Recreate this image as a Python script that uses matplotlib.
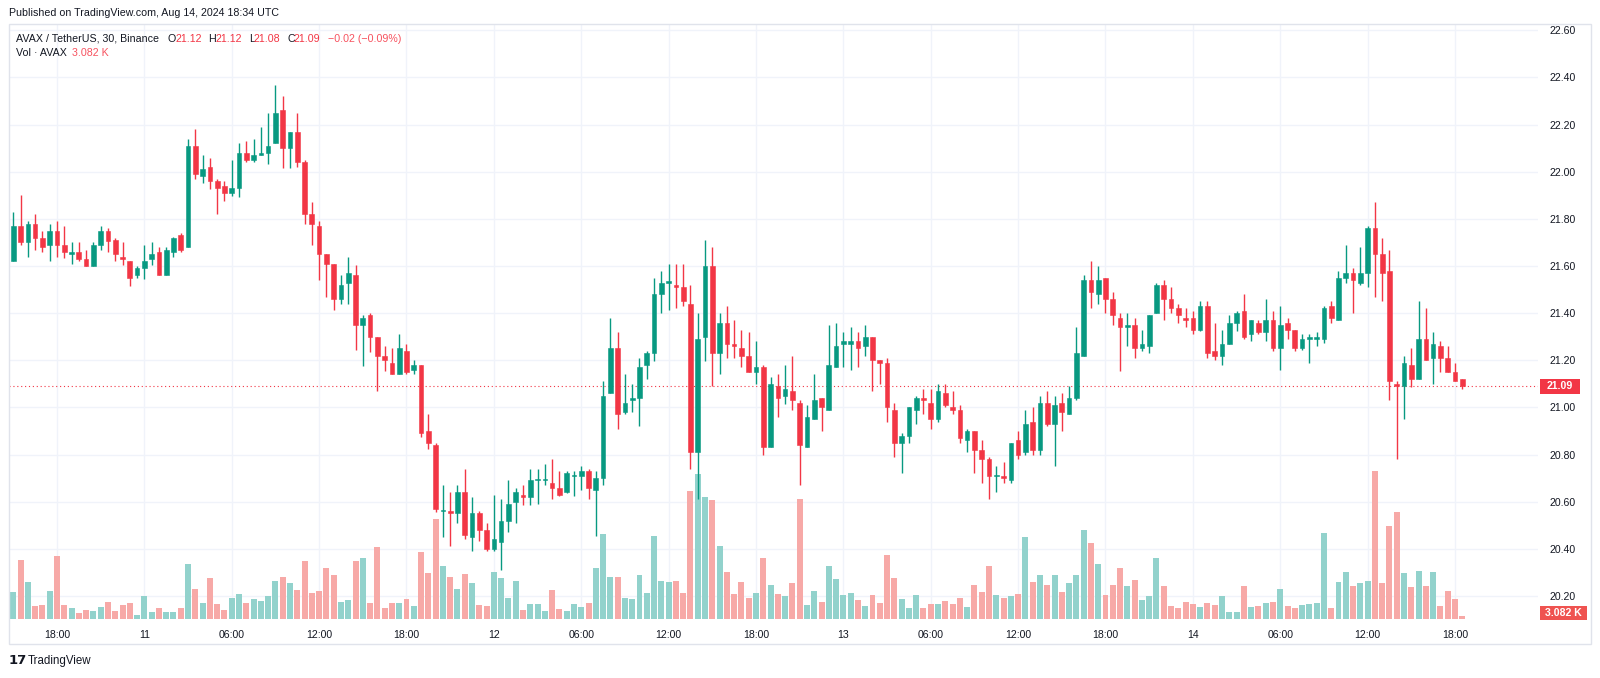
import matplotlib
matplotlib.use("Agg")
import matplotlib.pyplot as plt
from matplotlib.patches import Rectangle
import numpy as np

plt.rcParams['font.family'] = ['Liberation Sans', 'DejaVu Sans']

# ---------------- data (AVAX/USDT, 30m candles, Aug 10 15:00 -> Aug 14 18:30 UTC) -------------
opens = [
    21.62, 21.77, 21.70, 21.78, 21.72, 21.69, 21.75, 21.69, 21.65, 21.66,
    21.63, 21.60, 21.69, 21.75, 21.71, 21.64, 21.62, 21.56, 21.59, 21.63,
    21.66, 21.56, 21.66, 21.73, 21.68, 22.11, 21.98, 22.02, 21.96, 21.94,
    21.91, 21.93, 22.08, 22.05, 22.07, 22.08, 22.12, 22.26, 22.10, 22.17,
    22.04, 21.82, 21.77, 21.65, 21.61, 21.46, 21.53, 21.56, 21.35, 21.39,
    21.30, 21.22, 21.19, 21.14, 21.24, 21.16, 21.18, 20.90, 20.84, 20.56,
    20.56, 20.55, 20.64, 20.45, 20.55, 20.48, 20.40, 20.43, 20.52, 20.60,
    20.63, 20.62, 20.69, 20.69, 20.68, 20.66, 20.64, 20.71, 20.71, 20.73,
    20.65, 20.70, 21.06, 21.25, 20.98, 21.03, 21.04, 21.18, 21.23, 21.48,
    21.53, 21.52, 21.51, 21.44, 20.81, 21.30, 21.60, 21.23, 21.36, 21.27,
    21.25, 21.22, 21.15, 21.17, 20.83, 21.09, 21.05, 21.07, 21.02, 20.83,
    20.95, 21.04, 20.99, 21.17, 21.27, 21.27, 21.28, 21.26, 21.30, 21.20,
    21.19, 20.99, 20.85, 20.88, 20.99, 21.04, 21.02, 20.95, 21.06, 21.00,
    20.99, 20.86, 20.90, 20.82, 20.78, 20.71, 20.71, 20.69, 20.86, 20.81,
    20.94, 20.82, 21.02, 20.93, 21.02, 20.97, 21.04, 21.22, 21.54, 21.48,
    21.55, 21.46, 21.38, 21.34, 21.35, 21.25, 21.26, 21.40, 21.52, 21.46,
    21.42, 21.38, 21.38, 21.33, 21.43, 21.24, 21.22, 21.27, 21.36, 21.41,
    21.31, 21.36, 21.32, 21.37, 21.25, 21.36, 21.33, 21.25, 21.29, 21.29,
    21.29, 21.43, 21.37, 21.55, 21.57, 21.53, 21.57, 21.76, 21.65, 21.58,
    21.10, 21.09, 21.18, 21.12, 21.29, 21.21, 21.26, 21.21, 21.15, 21.12,
]
highs = [
    21.83, 21.90, 21.79, 21.82, 21.75, 21.78, 21.79, 21.77, 21.70, 21.70,
    21.67, 21.70, 21.77, 21.76, 21.72, 21.70, 21.62, 21.60, 21.69, 21.70,
    21.68, 21.68, 21.725, 21.74, 22.14, 22.18, 22.07, 22.06, 21.97, 21.96,
    22.05, 22.12, 22.13, 22.14, 22.19, 22.25, 22.37, 22.32, 22.17, 22.25,
    22.05, 21.87, 21.79, 21.65, 21.61, 21.56, 21.64, 21.605, 21.39, 21.40,
    21.30, 21.26, 21.25, 21.31, 21.27, 21.20, 21.18, 20.97, 20.85, 20.67,
    20.64, 20.67, 20.74, 20.62, 20.56, 20.51, 20.63, 20.61, 20.69, 20.66,
    20.67, 20.74, 20.74, 20.76, 20.78, 20.73, 20.73, 20.73, 20.75, 20.74,
    20.73, 21.11, 21.38, 21.32, 21.14, 21.10, 21.21, 21.24, 21.55, 21.58,
    21.61, 21.61, 21.61, 21.52, 21.40, 21.71, 21.68, 21.40, 21.43, 21.37,
    21.33, 21.32, 21.28, 21.18, 21.13, 21.14, 21.18, 21.22, 21.03, 21.01,
    21.14, 21.04, 21.35, 21.36, 21.32, 21.34, 21.32, 21.35, 21.30, 21.20,
    21.21, 21.02, 20.89, 21.00, 21.05, 21.08, 21.08, 21.10, 21.10, 21.07,
    21.01, 20.91, 20.90, 20.86, 20.79, 20.75, 20.77, 20.85, 20.90, 20.99,
    21.00, 21.05, 21.07, 21.05, 21.06, 21.09, 21.34, 21.56, 21.62, 21.60,
    21.55, 21.49, 21.40, 21.40, 21.38, 21.33, 21.39, 21.53, 21.54, 21.51,
    21.44, 21.42, 21.41, 21.45, 21.45, 21.36, 21.33, 21.39, 21.41, 21.48,
    21.37, 21.37, 21.46, 21.41, 21.43, 21.38, 21.33, 21.31, 21.31, 21.32,
    21.43, 21.45, 21.58, 21.69, 21.59, 21.68, 21.77, 21.87, 21.72, 21.67,
    21.11, 21.22, 21.25, 21.45, 21.42, 21.32, 21.28, 21.26, 21.19, 21.12,
]
lows = [
    21.62, 21.69, 21.64, 21.67, 21.66, 21.62, 21.64, 21.635, 21.61, 21.62,
    21.60, 21.60, 21.67, 21.66, 21.62, 21.605, 21.515, 21.55, 21.543, 21.605,
    21.56, 21.56, 21.637, 21.66, 21.68, 21.97, 21.954, 21.925, 21.82, 21.875,
    21.895, 21.894, 22.04, 22.04, 22.07, 22.035, 22.12, 22.015, 22.015, 22.02,
    21.78, 21.69, 21.54, 21.47, 21.415, 21.44, 21.44, 21.244, 21.174, 21.234,
    21.07, 21.155, 21.14, 21.14, 21.14, 21.14, 20.874, 20.825, 20.554, 20.45,
    20.41, 20.51, 20.44, 20.39, 20.435, 20.39, 20.39, 20.31, 20.47, 20.51,
    20.585, 20.585, 20.59, 20.67, 20.61, 20.625, 20.635, 20.625, 20.65, 20.61,
    20.455, 20.67, 21.06, 20.91, 20.97, 20.98, 20.92, 21.12, 21.195, 21.40,
    21.415, 21.42, 21.43, 20.74, 20.61, 21.195, 21.09, 21.14, 21.21, 21.21,
    21.17, 21.15, 21.10, 20.80, 20.83, 20.96, 21.015, 20.99, 20.67, 20.83,
    20.95, 20.90, 20.99, 21.17, 21.17, 21.16, 21.17, 21.22, 21.07, 21.10,
    20.94, 20.79, 20.72, 20.85, 20.93, 20.97, 20.91, 20.94, 21.00, 20.97,
    20.85, 20.81, 20.72, 20.68, 20.61, 20.64, 20.68, 20.68, 20.78, 20.80,
    20.80, 20.80, 20.92, 20.75, 20.90, 20.97, 21.03, 21.22, 21.42, 21.44,
    21.40, 21.35, 21.155, 21.26, 21.21, 21.24, 21.23, 21.40, 21.37, 21.40,
    21.36, 21.34, 21.31, 21.325, 21.21, 21.20, 21.18, 21.27, 21.325, 21.29,
    21.28, 21.31, 21.28, 21.24, 21.16, 21.29, 21.24, 21.245, 21.19, 21.26,
    21.275, 21.36, 21.37, 21.53, 21.40, 21.52, 21.51, 21.47, 21.45, 21.03,
    20.78, 20.95, 21.085, 21.12, 21.20, 21.10, 21.15, 21.15, 21.11, 21.08,
]
closes = [
    21.77, 21.70, 21.78, 21.72, 21.68, 21.75, 21.69, 21.66, 21.66, 21.63,
    21.60, 21.69, 21.75, 21.705, 21.65, 21.63, 21.55, 21.59, 21.62, 21.65,
    21.56, 21.67, 21.72, 21.67, 22.11, 21.99, 22.01, 21.96, 21.93, 21.91,
    21.93, 22.08, 22.05, 22.07, 22.08, 22.11, 22.25, 22.10, 22.17, 22.04,
    21.82, 21.78, 21.65, 21.61, 21.46, 21.52, 21.57, 21.35, 21.38, 21.30,
    21.22, 21.20, 21.14, 21.25, 21.15, 21.18, 20.89, 20.85, 20.57, 20.56,
    20.55, 20.64, 20.46, 20.55, 20.48, 20.40, 20.44, 20.52, 20.59, 20.64,
    20.62, 20.69, 20.69, 20.69, 20.66, 20.63, 20.72, 20.71, 20.73, 20.66,
    20.70, 21.05, 21.25, 20.97, 21.02, 21.04, 21.17, 21.23, 21.48, 21.53,
    21.53, 21.51, 21.45, 20.81, 21.29, 21.60, 21.23, 21.36, 21.27, 21.26,
    21.22, 21.15, 21.17, 20.83, 21.10, 21.04, 21.08, 21.03, 20.84, 20.96,
    21.03, 21.00, 21.18, 21.26, 21.28, 21.28, 21.25, 21.30, 21.20, 21.19,
    21.00, 20.85, 20.88, 21.00, 21.04, 21.03, 20.95, 21.07, 21.01, 20.99,
    20.87, 20.90, 20.82, 20.78, 20.71, 20.71, 20.70, 20.85, 20.80, 20.93,
    20.82, 21.02, 20.93, 21.01, 20.98, 21.04, 21.23, 21.54, 21.49, 21.54,
    21.46, 21.39, 21.34, 21.35, 21.25, 21.27, 21.39, 21.52, 21.46, 21.42,
    21.39, 21.37, 21.33, 21.43, 21.23, 21.22, 21.27, 21.36, 21.40, 21.30,
    21.37, 21.32, 21.37, 21.25, 21.35, 21.33, 21.25, 21.29, 21.30, 21.30,
    21.42, 21.38, 21.55, 21.57, 21.54, 21.57, 21.76, 21.65, 21.57, 21.11,
    21.09, 21.19, 21.12, 21.29, 21.20, 21.27, 21.21, 21.15, 21.11, 21.09,
]
volumes_k = [
    27.3, 58.9, 37.0, 12.7, 13.9, 28.5, 63.1, 13.9, 10.8, 6.2,
    9.2, 8.1, 11.6, 17.3, 8.1, 13.9, 16.2, 4.2, 23.1, 7.3,
    11.2, 7.3, 7.3, 11.2, 55.1, 30.4, 15.8, 41.6, 14.6, 8.9,
    21.6, 25.4, 16.2, 20.0, 18.5, 22.7, 38.5, 42.7, 35.8, 29.3,
    58.5, 26.6, 28.5, 51.2, 44.7, 17.3, 18.9, 58.5, 61.2, 16.2,
    72.4, 11.2, 15.8, 15.8, 20.0, 12.7, 67.0, 45.8, 100.5, 53.5,
    42.0, 30.0, 45.0, 35.8, 13.9, 12.7, 47.0, 41.2, 21.6, 38.5,
    9.2, 14.6, 14.6, 8.1, 29.3, 10.0, 8.1, 14.6, 11.6, 16.2,
    51.2, 85.1, 42.7, 42.7, 21.6, 20.0, 44.7, 25.8, 83.2, 38.5,
    37.0, 38.5, 25.8, 129.0, 145.5, 122.8, 119.4, 73.2, 47.4, 25.4,
    37.3, 20.8, 26.6, 61.2, 34.3, 25.4, 22.7, 36.6, 120.5, 13.9,
    28.1, 17.3, 53.1, 40.0, 24.3, 26.6, 18.9, 12.7, 23.9, 16.2,
    63.9, 41.2, 20.0, 11.2, 23.9, 10.8, 14.6, 14.6, 18.5, 14.6,
    20.8, 11.6, 34.7, 27.3, 53.1, 24.3, 20.8, 22.7, 25.4, 82.4,
    37.0, 43.9, 33.9, 43.9, 27.3, 35.8, 43.9, 89.3, 76.6, 55.8,
    23.9, 33.9, 51.2, 32.7, 39.7, 18.9, 22.7, 61.2, 32.7, 12.7,
    10.8, 17.3, 15.4, 11.6, 16.2, 13.9, 22.7, 7.3, 7.3, 32.7,
    11.6, 12.7, 15.8, 17.3, 30.4, 12.7, 10.8, 13.9, 15.4, 16.2,
    86.6, 10.8, 37.3, 47.4, 32.7, 36.6, 38.5, 148.6, 36.6, 93.6,
    107.8, 46.6, 32.0, 48.5, 32.7, 47.4, 12.7, 28.1, 20.0, 3.082,
]
time_tick_index = [6, 18, 30, 42, 54, 66, 78, 90, 102, 114, 126, 138, 150, 162, 174, 186, 198]
time_tick_labels = ['18:00', '11', '06:00', '12:00', '18:00', '12', '06:00', '12:00', '18:00',
                    '13', '06:00', '12:00', '18:00', '14', '06:00', '12:00', '18:00']
price_ticks = [20.20, 20.40, 20.60, 20.80, 21.00, 21.20, 21.40, 21.60, 21.80, 22.00, 22.20, 22.40, 22.60]
last_price = 21.09
last_volume_label = '3.082 K'

# ---------------- style ----------------
UP, DN = '#089981', '#F23645'
VUP, VDN = '#92D2CC', '#F7A9A7'
GRID = '#F0F3FA'
TXT = '#131722'
FS = 7.6

W, H = 1600, 678
fig = plt.figure(figsize=(W / 100, H / 100), dpi=100)
fig.patch.set_facecolor('white')

def ftext(xp, yp, s, **kw):
    return fig.text(xp / W, 1 - yp / H, s, **kw)

def fbox(x0, y0, x1, y1, color, fill=True, lw=0):
    fig.add_artist(Rectangle((x0 / W, 1 - y1 / H), (x1 - x0) / W, (y1 - y0) / H,
                             transform=fig.transFigure, facecolor=color if fill else 'none',
                             edgecolor=color, lw=lw, fill=fill))

# outer frame
fbox(9, 24, 1591, 644, '#E0E3EB', fill=False, lw=1)

L, R, T, B = 9, 1538, 24, 619
pos = [L / W, 1 - B / H, (R - L) / W, (B - T) / H]
ax_bg = fig.add_axes(pos)
ax_vol = fig.add_axes(pos, sharex=ax_bg)
ax = fig.add_axes(pos, sharex=ax_bg, sharey=ax_bg)
ax_vol.axis('off')
ax.axis('off')

n = len(closes)
x = np.arange(n)
o = np.array(opens); c = np.array(closes)
h = np.maximum(np.array(highs), np.maximum(o, c))
lo = np.minimum(np.array(lows), np.minimum(o, c))
up = c >= o

ax_bg.set_xlim(-0.59, 209.4)
ax_bg.set_ylim(20.102, 22.627)
ax_bg.set_facecolor('white')
for s in ax_bg.spines.values():
    s.set_visible(False)
ax_bg.yaxis.tick_right()
ax_bg.set_yticks(price_ticks, [f'{p:.2f}' for p in price_ticks])
ax_bg.set_xticks(time_tick_index, time_tick_labels)
ax_bg.tick_params(axis='y', length=0, pad=8, labelsize=FS, labelcolor=TXT)
ax_bg.tick_params(axis='x', length=0, pad=8, labelsize=FS, labelcolor=TXT)
ax_bg.grid(True, color=GRID, lw=1)

# volume
ax_vol.bar(x, volumes_k, width=0.82, color=np.where(up, VUP, VDN), linewidth=0)
ax_vol.set_ylim(0, 598.6)

# last price line
ax.axhline(last_price, color=DN, lw=0.8, ls=(0, (1, 2.5)), zorder=1)

# candles
cols = np.where(up, UP, DN)
ax.vlines(x, lo, h, colors=cols, lw=1.0, zorder=2)
body_bot = np.minimum(o, c)
body_h = np.maximum(np.abs(c - o), 0.005)
ax.bar(x, body_h, bottom=body_bot, width=0.64, color=cols, edgecolor=cols, linewidth=0.4, zorder=3)

# price labels on axis
py = 30.3 + (22.60 - last_price) * 235.7
fbox(1540, py - 7.5, 1580, py + 7.5, DN)
ftext(1560, py, f'{last_price:.2f}', color='white', fontsize=FS, fontweight='bold', ha='center', va='center')
fbox(1540, 606, 1587, 620, '#EF5350')
ftext(1563.5, 613, last_volume_label, color='white', fontsize=FS, fontweight='bold', ha='center', va='center')

# header
ftext(9, 13, 'Published on TradingView.com, Aug 14, 2024 18:34 UTC', fontsize=7.7, color=TXT, va='center')

# legend
LFS = 7.7
LY = 38.5
ftext(16, LY, 'AVAX / TetherUS, 30, Binance', fontsize=LFS, color=TXT, va='center')
legend_pieces = [(167, 'O', TXT), (175.5, '21.12', DN), (208, 'H', TXT), (216, '21.12', DN),
                 (249, 'L', TXT), (254, '21.08', DN), (287, 'C', TXT), (294, '21.09', DN),
                 (328, '\u22120.02 (\u22120.09%)', '#F7525F')]
for xp, s, col in legend_pieces:
    ftext(xp, LY, s, fontsize=LFS, color=col, va='center')
ftext(16, 53, 'Vol \u00b7 AVAX', fontsize=LFS, color=TXT, va='center')
ftext(72, 53, '3.082 K', fontsize=LFS, color='#F7525F', va='center')

# footer logo
ftext(9, 661, '17', fontsize=9.5, color=TXT, fontweight='bold', va='center', family='DejaVu Sans')
ftext(28, 661, 'TradingView', fontsize=8.3, color=TXT, va='center')

fig.savefig('out.png', dpi=100, facecolor='white')
